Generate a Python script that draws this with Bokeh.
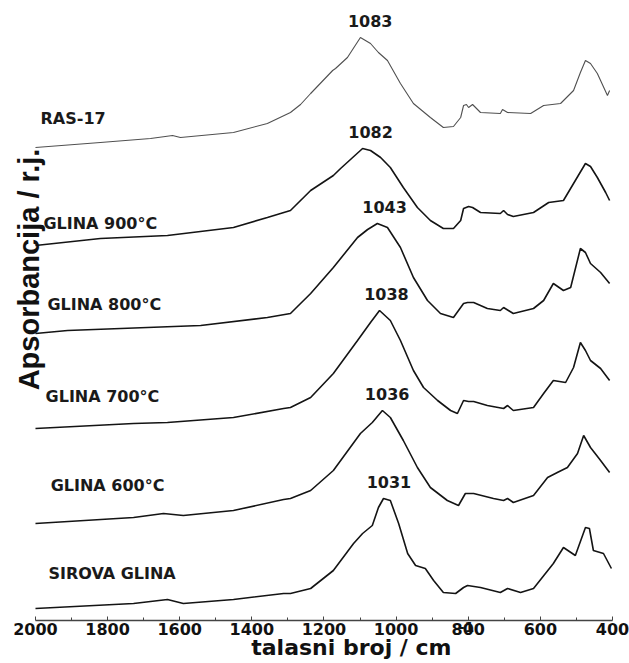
import math
from bokeh.plotting import figure
from bokeh.models import Range1d, FixedTicker, Label, ColumnDataSource, LinearAxis
from bokeh.embed import file_html
from bokeh.resources import INLINE
from bokeh.core.properties import value

# ---------------- data (wavenumber cm^-1, stacked absorbance a.u.) ----------------
names = ["RAS-17", "GLINA 900°C", "GLINA 800°C", "GLINA 700°C", "GLINA 600°C", "SIROVA GLINA"]
peak_labels = [1083, 1082, 1043, 1038, 1036, 1031]

wn_ras = [2000, 1820, 1681, 1640, 1620, 1598, 1451, 1357, 1293, 1265, 1237, 1176, 1168, 1135,
          1099, 1071, 1049, 1024, 988, 952, 905, 869, 841, 821, 813, 805, 799, 788, 766, 711,
          705, 691, 627, 591, 544, 508, 489, 475, 461, 442, 414, 408]
ab_ras = [4.73, 4.78, 4.82, 4.84, 4.85, 4.83, 4.88, 4.97, 5.08, 5.16, 5.27, 5.50, 5.52, 5.63,
          5.83, 5.77, 5.68, 5.60, 5.37, 5.17, 5.03, 4.93, 4.94, 5.03, 5.15, 5.16, 5.13, 5.16, 5.08, 5.07,
          5.11, 5.08, 5.07, 5.15, 5.17, 5.30, 5.48, 5.60, 5.57, 5.47, 5.25, 5.30]

wn_900 = [2000, 1820, 1634, 1451, 1357, 1293, 1237, 1174, 1154, 1093, 1071, 1043, 1016, 980, 941,
          905, 869, 841, 821, 813, 799, 788, 766, 711, 702, 691, 675, 619, 577, 536, 508, 475,
          461, 442, 419, 408]
ab_900 = [3.75, 3.82, 3.85, 3.93, 4.03, 4.10, 4.30, 4.45, 4.52, 4.72, 4.70, 4.63, 4.53, 4.33, 4.13,
          4.00, 3.92, 3.92, 4.00, 4.12, 4.14, 4.13, 4.08, 4.07, 4.10, 4.06, 4.04, 4.08, 4.18, 4.20, 4.37, 4.57,
          4.54, 4.43, 4.28, 4.20]

wn_800 = [2000, 1911, 1542, 1357, 1293, 1237, 1174, 1107, 1079, 1052, 1024, 988, 952, 913, 877,
          841, 813, 802, 785, 747, 711, 702, 675, 619, 591, 564, 536, 516, 489, 475, 461, 433, 408]
ab_800 = [2.87, 2.90, 2.95, 3.03, 3.07, 3.27, 3.53, 3.83, 3.91, 3.97, 3.93, 3.73, 3.43, 3.20, 3.07,
          3.03, 3.17, 3.18, 3.18, 3.12, 3.10, 3.13, 3.07, 3.12, 3.20, 3.37, 3.30, 3.33, 3.72, 3.68, 3.57, 3.48, 3.37]

wn_700 = [2000, 1728, 1634, 1451, 1312, 1293, 1237, 1174, 1107, 1071, 1046, 1016, 988, 952, 924,
          885, 849, 830, 813, 799, 785, 747, 702, 691, 675, 619, 591, 564, 530, 508, 489, 475, 461, 433, 408]
ab_700 = [1.92, 1.97, 1.98, 2.03, 2.12, 2.13, 2.23, 2.47, 2.80, 2.98, 3.10, 3.00, 2.80, 2.50, 2.33,
          2.20, 2.10, 2.07, 2.20, 2.19, 2.19, 2.15, 2.12, 2.15, 2.10, 2.13, 2.27, 2.40, 2.38, 2.53, 2.78, 2.70, 2.60, 2.52, 2.40]

wn_600 = [2000, 1728, 1645, 1590, 1451, 1312, 1293, 1237, 1174, 1099, 1066, 1038, 1016, 980, 941,
          905, 858, 827, 808, 785, 730, 702, 691, 675, 619, 580, 553, 525, 497, 480, 461, 433, 408]
ab_600 = [0.97, 1.03, 1.07, 1.05, 1.10, 1.21, 1.22, 1.30, 1.50, 1.87, 1.98, 2.10, 2.03, 1.80, 1.53,
          1.33, 1.20, 1.15, 1.27, 1.27, 1.22, 1.20, 1.22, 1.18, 1.25, 1.43, 1.48, 1.53, 1.67, 1.85, 1.73, 1.60, 1.48]

wn_sir = [2000, 1728, 1634, 1590, 1451, 1312, 1293, 1237, 1174, 1118, 1093, 1066, 1049, 1035, 1016,
          993, 968, 946, 919, 896, 869, 835, 813, 802, 766, 711, 691, 655, 619, 564, 536, 503, 475,
          464, 453, 425, 403]
ab_sir = [0.12, 0.17, 0.21, 0.17, 0.21, 0.27, 0.27, 0.32, 0.50, 0.77, 0.87, 0.95, 1.13, 1.22, 1.20,
          0.97, 0.67, 0.55, 0.52, 0.40, 0.28, 0.27, 0.33, 0.35, 0.33, 0.28, 0.32, 0.28, 0.32, 0.57, 0.73, 0.65, 0.93,
          0.92, 0.70, 0.67, 0.52]

x_ticks = [2000, 1800, 1600, 1400, 1200, 1000, 800, 600, 400]
x_minor = [1900, 1700, 1500, 1300, 1100, 900, 700, 500]

series_wn = [wn_ras, wn_900, wn_800, wn_700, wn_600, wn_sir]
series_ab = [ab_ras, ab_900, ab_800, ab_700, ab_600, ab_sir]

# layout: where each sample name sits (wavenumber, a.u.)
name_x = [1986, 1978, 1967, 1972, 1958, 1964]
name_y = [5.02, 3.97, 3.16, 2.24, 1.35, 0.47]

# ---------------- figure ----------------
p = figure(width=629, height=663, output_backend="svg", toolbar_location=None,
           x_range=Range1d(2097, 400), y_range=Range1d(0, 6.12),
           y_axis_location=None, min_border_left=0, min_border_right=17,
           min_border_top=8, min_border_bottom=43, background_fill_color="white")
p.outline_line_color = None
p.grid.visible = False

for i, (wn, ab) in enumerate(zip(series_wn, series_ab)):
    p.line(wn, ab, line_color="#505050" if i == 0 else "#141414",
           line_width=1.1 if i == 0 else 1.6)

# sample names
src_names = ColumnDataSource(dict(x=name_x, y=name_y, t=names))
p.text(x="x", y="y", text="t", source=src_names, text_font=value("DejaVu Sans"),
       text_font_style="bold", text_font_size="16px", text_color="#1a1a1a",
       text_align="left", text_baseline="middle")

# peak labels
pk_y = [max(ab) for ab in series_ab]
src_pk = ColumnDataSource(dict(x=peak_labels, y=pk_y, t=[str(v) for v in peak_labels]))
p.text(x="x", y="y", text="t", source=src_pk, text_font=value("DejaVu Sans"),
       text_font_style="bold", text_font_size="16px", text_color="#1a1a1a",
       text_align="center", text_baseline="middle", x_offset=4, y_offset=-17)

# main x axis (ticks and numbers)
ax = p.xaxis[0]
ax.bounds = (400, 2000)
ax.ticker = FixedTicker(ticks=x_ticks, minor_ticks=x_minor)
ax.axis_line_width = 1.5
ax.axis_line_color = "#444444"
ax.major_tick_in = 4
ax.major_tick_out = 0
ax.minor_tick_in = 3
ax.minor_tick_out = 0
ax.major_tick_line_color = "#444444"
ax.minor_tick_line_color = "#444444"
ax.major_label_standoff = 2
ax.major_label_text_font = "DejaVu Sans"
ax.major_label_text_font_style = "bold"
ax.major_label_text_font_size = "16px"
ax.major_label_text_color = "#111111"
ax.axis_label_standoff = 0


def text_axis(pos, text, standoff, size):
    """Invisible helper axis whose single tick label carries a text below the plot."""
    return LinearAxis(ticker=FixedTicker(ticks=[pos], minor_ticks=[]),
                      major_label_overrides={pos: text},
                      axis_line_color=None, major_tick_line_color=None, minor_tick_line_color=None,
                      major_tick_in=0, major_tick_out=0, minor_tick_in=0, minor_tick_out=0,
                      major_label_standoff=standoff, major_label_text_font="DejaVu Sans",
                      major_label_text_font_style="bold", major_label_text_font_size=size,
                      major_label_text_color="#111111", axis_label_standoff=0)


# stray "-1" exponent beside the 800 label, then the axis title
p.add_layout(text_axis(805, "-1", -16, "14px"), "below")
p.add_layout(text_axis(1124, "talasni broj / cm", -3, "22px"), "below")

# y axis title (inside the frame, as in the reference)
p.add_layout(Label(x=2017, y=3.51, text="Apsorbancija / r.j.", angle=math.pi / 2,
                   text_align="center", text_baseline="alphabetic",
                   text_font="Liberation Sans", text_font_style="bold",
                   text_font_size="29px", text_color="#111111"))

open("out.html", "w").write(file_html(p, INLINE))
